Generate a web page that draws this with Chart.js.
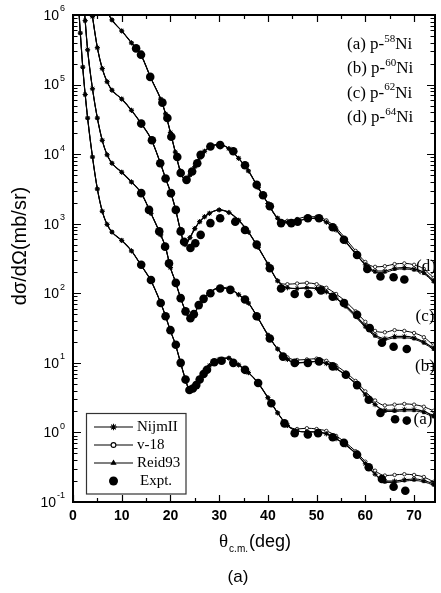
<!DOCTYPE html>
<html>
<head>
<meta charset="utf-8">
<script src="https://cdn.jsdelivr.net/npm/chart.js@4.4.1/dist/chart.umd.min.js"></script>
<style>
  html, body { margin: 0; background: #fff; }
  canvas { display: block; }
</style>
</head>
<body>
<canvas id="chart" width="441" height="593"></canvas>
<script>

/* DATA */

// angles (deg) of the calculated curves
const thetaTheory = [1, 1.5, 2, 2.5, 3, 4, 5, 6, 7, 8, 10, 12, 14, 16, 18, 19, 20, 21, 22, 23, 24, 25, 26, 27, 28, 30, 32, 34, 36, 38, 40, 42, 44, 46, 48, 50, 52, 54, 56, 58, 60, 62, 64, 66, 68, 70, 72, 74, 75];

// (a) p-58Ni  (x1)
const nijmA = [2.0e6, 5.5e5, 1.78e5, 7.2e4, 3.3e4, 9.1e3, 3.16e3, 1.51e3, 977, 759, 575, 407, 251, 151, 72.4, 46.8, 28.8, 18.6, 10.5, 6.03, 3.98, 4.57, 6.03, 7.59, 9.12, 11.2, 11.7, 9.33, 7.24, 5.13, 3.16, 1.91, 1.26, 1.05, 1.02, 1.02, 0.955, 0.813, 0.661, 0.501, 0.355, 0.251, 0.200, 0.200, 0.209, 0.214, 0.204, 0.182, 0.170];
const v18A = [2.0e6, 5.5e5, 1.78e5, 7.2e4, 3.3e4, 9.1e3, 3.16e3, 1.51e3, 977, 759, 575, 407, 251, 151, 72.4, 46.8, 28.8, 18.6, 10.5, 6.03, 3.98, 4.57, 6.03, 7.59, 9.12, 11.2, 11.7, 9.33, 7.24, 5.13, 3.16, 1.91, 1.26, 1.12, 1.15, 1.12, 1.05, 0.891, 0.708, 0.537, 0.380, 0.282, 0.240, 0.245, 0.251, 0.245, 0.229, 0.195, 0.182];
const reidA = [2.0e6, 5.5e5, 1.78e5, 7.2e4, 3.3e4, 9.1e3, 3.16e3, 1.51e3, 977, 759, 575, 407, 251, 151, 72.4, 46.8, 28.8, 18.6, 10.5, 6.03, 3.98, 4.57, 6.03, 7.59, 9.12, 11.2, 11.7, 9.33, 7.24, 5.13, 3.16, 1.91, 1.26, 1.05, 1.02, 1.02, 0.955, 0.813, 0.661, 0.501, 0.355, 0.251, 0.191, 0.191, 0.200, 0.204, 0.195, 0.174, 0.162];
const exptThetaA = [14.0, 16.0, 18.0, 19.0, 20.0, 21.1, 22.1, 23.1, 23.9, 24.6, 25.3, 26.0, 26.8, 27.5, 29.0, 30.5, 32.9, 35.3, 38.0, 40.7, 43.4, 45.5, 48.2, 50.3, 53.3, 55.6, 58.3, 60.7, 63.4, 65.8, 68.2];
const exptA = [257, 155, 72.4, 46.8, 29.5, 18.2, 10.0, 5.75, 4.07, 4.27, 4.79, 5.75, 6.92, 7.94, 10.2, 10.7, 10.0, 7.94, 5.13, 2.63, 1.35, 0.977, 0.933, 0.977, 0.851, 0.708, 0.479, 0.316, 0.214, 0.166, 0.145];

// (b) p-60Ni  (x10)
const nijmB = [2.5e7, 7.9e6, 2.5e6, 8.3e5, 3.16e5, 8.7e4, 3.3e4, 1.58e4, 9.8e3, 7.4e3, 5.5e3, 3.98e3, 2.75e3, 1.41e3, 692, 457, 234, 148, 89.1, 57.5, 42.7, 52.5, 70.8, 87.1, 102, 120, 117, 95.5, 72.4, 43.7, 25.1, 15.8, 11.2, 10.0, 10.2, 10.5, 9.77, 8.32, 6.61, 5.01, 3.47, 2.51, 2.09, 2.09, 2.14, 2.14, 2.00, 1.74, 1.62];
const v18B = [2.5e7, 7.9e6, 2.5e6, 8.3e5, 3.16e5, 8.7e4, 3.3e4, 1.58e4, 9.8e3, 7.4e3, 5.5e3, 3.98e3, 2.75e3, 1.41e3, 692, 457, 234, 148, 89.1, 57.5, 42.7, 52.5, 70.8, 87.1, 102, 120, 117, 95.5, 72.4, 43.7, 25.1, 15.8, 12.0, 11.0, 11.2, 11.5, 10.7, 9.12, 7.24, 5.50, 3.89, 2.88, 2.45, 2.51, 2.57, 2.51, 2.34, 2.04, 1.91];
const reidB = [2.5e7, 7.9e6, 2.5e6, 8.3e5, 3.16e5, 8.7e4, 3.3e4, 1.58e4, 9.8e3, 7.4e3, 5.5e3, 3.98e3, 2.75e3, 1.41e3, 692, 457, 234, 148, 89.1, 57.5, 42.7, 52.5, 70.8, 87.1, 102, 120, 117, 95.5, 72.4, 43.7, 25.1, 15.8, 11.2, 10.0, 10.2, 10.5, 9.77, 8.32, 6.61, 5.01, 3.47, 2.51, 2.00, 2.00, 2.04, 2.04, 1.91, 1.66, 1.55];
const exptThetaB = [14.0, 15.6, 17.7, 18.9, 19.7, 21.1, 22.1, 23.1, 24.1, 24.8, 25.8, 26.8, 28.2, 30.2, 32.3, 35.3, 37.7, 40.4, 43.1, 45.5, 48.2, 50.5, 53.3, 56.0, 58.3, 60.7, 63.1, 66.1, 68.5];
const exptB = [2.75e3, 1.58e3, 776, 468, 269, 141, 85.1, 55.0, 43.7, 50.1, 67.6, 83.2, 100, 117, 112, 81.3, 46.8, 22.4, 12.3, 10.0, 10.0, 10.5, 8.91, 6.76, 4.79, 2.95, 1.91, 1.55, 1.48];

// (c) p-62Ni  (x100)
const nijmC = [2.5e8, 4.9e7, 1.5e7, 6.3e6, 3.0e6, 9.5e5, 3.39e5, 1.70e5, 1.10e5, 8.3e4, 6.2e4, 4.27e4, 2.75e4, 1.66e4, 7.2e3, 4.47e3, 2.88e3, 1.66e3, 832, 501, 631, 851, 1.07e3, 1.26e3, 1.41e3, 1.58e3, 1.45e3, 1.12e3, 759, 457, 263, 151, 120, 117, 120, 117, 105, 85.1, 66.1, 47.9, 33.9, 25.1, 22.4, 24.0, 24.0, 22.9, 20.0, 16.2, 14.5];
const v18C = [2.5e8, 4.9e7, 1.5e7, 6.3e6, 3.0e6, 9.5e5, 3.39e5, 1.70e5, 1.10e5, 8.3e4, 6.2e4, 4.27e4, 2.75e4, 1.66e4, 7.2e3, 4.47e3, 2.88e3, 1.66e3, 832, 501, 631, 851, 1.07e3, 1.26e3, 1.41e3, 1.58e3, 1.45e3, 1.12e3, 759, 457, 263, 151, 135, 138, 141, 135, 120, 97.7, 75.9, 55.0, 38.9, 28.8, 27.5, 29.5, 28.8, 26.9, 23.4, 17.8, 15.5];
const reidC = [2.5e8, 4.9e7, 1.5e7, 6.3e6, 3.0e6, 9.5e5, 3.39e5, 1.70e5, 1.10e5, 8.3e4, 6.2e4, 4.27e4, 2.75e4, 1.66e4, 7.2e3, 4.47e3, 2.88e3, 1.66e3, 832, 501, 631, 851, 1.07e3, 1.26e3, 1.41e3, 1.58e3, 1.45e3, 1.12e3, 759, 457, 263, 151, 120, 117, 120, 117, 105, 85.1, 63.1, 45.7, 32.4, 24.0, 21.4, 22.9, 22.9, 21.9, 19.1, 15.5, 13.8];
const exptThetaC = [14.0, 16.2, 17.9, 19.0, 20.1, 21.1, 22.1, 22.8, 24.1, 25.1, 26.2, 28.2, 30.2, 33.3, 35.3, 37.7, 40.4, 42.7, 45.5, 48.3, 50.9, 53.3, 55.6, 58.3, 60.9, 63.4, 65.8, 68.5];
const exptC = [2.75e4, 1.58e4, 7.41e3, 4.47e3, 2.75e3, 1.58e3, 776, 550, 447, 525, 692, 1.02e3, 1.20e3, 1.07e3, 813, 501, 229, 117, 97.7, 97.7, 110, 89.1, 72.4, 49.0, 31.6, 19.5, 17.0, 15.8];

// (d) p-64Ni  (x1000)
const nijmD = [3e9, 6e8, 2e8, 8e7, 4e7, 1.26e7, 4.5e6, 2.1e6, 1.15e6, 8.5e5, 5.9e5, 3.98e5, 2.63e5, 1.23e5, 6.17e4, 3.8e4, 2.04e4, 1.07e4, 5.75e3, 4.27e3, 5.01e3, 6.61e3, 8.91e3, 1.10e4, 1.26e4, 1.38e4, 1.20e4, 8.71e3, 5.75e3, 3.31e3, 1.95e3, 1.20e3, 1.05e3, 1.10e3, 1.17e3, 1.20e3, 1.05e3, 813, 550, 372, 257, 209, 209, 229, 234, 224, 200, 151, 132];
const v18D = [3e9, 6e8, 2e8, 8e7, 4e7, 1.26e7, 4.5e6, 2.1e6, 1.15e6, 8.5e5, 5.9e5, 3.98e5, 2.63e5, 1.23e5, 6.17e4, 3.8e4, 2.04e4, 1.07e4, 5.75e3, 4.27e3, 5.01e3, 6.61e3, 8.91e3, 1.10e4, 1.26e4, 1.38e4, 1.20e4, 8.71e3, 5.75e3, 3.31e3, 1.95e3, 1.20e3, 1.10e3, 1.17e3, 1.26e3, 1.26e3, 1.12e3, 871, 603, 407, 282, 240, 245, 263, 269, 257, 224, 166, 145];
const reidD = [3e9, 6e8, 2e8, 8e7, 4e7, 1.26e7, 4.5e6, 2.1e6, 1.15e6, 8.5e5, 5.9e5, 3.98e5, 2.63e5, 1.23e5, 6.17e4, 3.8e4, 2.04e4, 1.07e4, 5.75e3, 4.27e3, 5.01e3, 6.61e3, 8.91e3, 1.10e4, 1.26e4, 1.38e4, 1.20e4, 8.71e3, 5.75e3, 3.31e3, 1.95e3, 1.20e3, 1.05e3, 1.10e3, 1.17e3, 1.20e3, 1.05e3, 813, 550, 372, 257, 200, 200, 219, 224, 214, 191, 145, 126];
const exptThetaD = [12.95, 13.96, 15.85, 18.35, 19.37, 20.18, 21.4, 22.1, 23.3, 24.45, 25.5, 26.2, 28.2, 30.2, 32.9, 35.3, 37.7, 39.0, 40.4, 42.7, 44.8, 46.1, 48.2, 50.5, 53.3, 55.6, 58.3, 60.4, 63.1, 65.8, 68.0];
const exptD = [3.31e5, 2.69e5, 1.29e5, 5.50e4, 3.31e4, 1.78e4, 9.12e3, 5.37e3, 4.27e3, 5.62e3, 7.41e3, 9.77e3, 1.29e4, 1.35e4, 1.10e4, 6.92e3, 3.63e3, 2.57e3, 1.78e3, 1.02e3, 1.02e3, 1.07e3, 1.20e3, 1.20e3, 891, 589, 355, 224, 174, 170, 158];

// axes
const xTickLabels = [0, 10, 20, 30, 40, 50, 60, 70];
const yExponents = [-1, 0, 1, 2, 3, 4, 5, 6];

// texts
const legendLabels = ["NijmII", "v-18", "Reid93", "Expt."];
const targetTags = ["(a) p-", "(b) p-", "(c) p-", "(d) p-"];
const targetMasses = ["58", "60", "62", "64"];
const curveTags = ["(a)", "(b)", "(c)", "(d)"];


/* DATASETS */

function pts(xs, ys) {
  return xs.map((x, i) => ({ x: x, y: ys[i] }));
}

const nijmStyle = {
  showLine: true, borderColor: "#000", borderWidth: 1.2,
  pointStyle: "star", pointRadius: 2.6, pointBorderWidth: 1,
  pointBorderColor: "#000", pointBackgroundColor: "#000",
  cubicInterpolationMode: "monotone"
};
const v18Style = {
  showLine: true, borderColor: "#000", borderWidth: 1,
  pointStyle: "circle", pointRadius: 1.7, pointBorderWidth: 0.8,
  pointBorderColor: "#000", pointBackgroundColor: "#fff",
  cubicInterpolationMode: "monotone"
};
const reidStyle = {
  showLine: true, borderColor: "#000", borderWidth: 1,
  pointStyle: "triangle", pointRadius: 1.8, pointBorderWidth: 0.5,
  pointBorderColor: "#000", pointBackgroundColor: "#000",
  cubicInterpolationMode: "monotone"
};
const exptStyle = {
  showLine: false, pointStyle: "circle", pointRadius: 4.3,
  pointBorderWidth: 0, pointBackgroundColor: "#000", pointBorderColor: "#000"
};

const groups = [
  [nijmA, v18A, reidA, exptThetaA, exptA],
  [nijmB, v18B, reidB, exptThetaB, exptB],
  [nijmC, v18C, reidC, exptThetaC, exptC],
  [nijmD, v18D, reidD, exptThetaD, exptD]
];

// first dataset ends up on top
const datasets = [];

groups.forEach(g => {
  datasets.push(Object.assign({ label: "Expt.", data: pts(g[3], g[4]) }, exptStyle));
});
groups.forEach(g => {
  datasets.push(Object.assign({ label: "NijmII", data: pts(thetaTheory, g[0]) }, nijmStyle));
});
groups.forEach(g => {
  datasets.push(Object.assign({ label: "Reid93", data: pts(thetaTheory, g[2]) }, reidStyle));
});
groups.forEach(g => {
  datasets.push(Object.assign({ label: "v-18", data: pts(thetaTheory, g[1]) }, v18Style));
});


/* FRAME, TICKS AND TEXTS */

const SANS = "'Liberation Sans', Arial, sans-serif";
const SERIF = "'Liberation Serif', 'Times New Roman', serif";

function drawPow(ctx, e, xr, yc) {
  const base = "10", sup = String(e);
  ctx.font = "14px " + SANS;
  const wb = ctx.measureText(base).width;
  ctx.font = "9px " + SANS;
  const ws = ctx.measureText(sup).width;
  const x0 = xr - wb - ws - 1;
  ctx.textAlign = "left";
  ctx.textBaseline = "middle";
  ctx.font = "14px " + SANS;
  ctx.fillText(base, x0, yc + 1);
  ctx.font = "9px " + SANS;
  ctx.fillText(sup, x0 + wb + 1, yc - 6);
}

const frame = {
  id: "frame",
  afterDraw(chart) {
    const { ctx, chartArea: a, scales: { x, y } } = chart;
    const L = a.left, R = a.right - 1, T = a.top, B = a.bottom;
    ctx.save();
    ctx.fillStyle = "#000";
    ctx.strokeStyle = "#000";

    // frame
    ctx.lineWidth = 2;
    ctx.strokeRect(L, T, R - L, B - T);

    // x ticks (inside, bottom and top)
    ctx.lineWidth = 1.2;
    ctx.beginPath();
    xTickLabels.forEach(v => {
      const px = Math.round(x.getPixelForValue(v)) + 0.5;
      ctx.moveTo(px, B); ctx.lineTo(px, B - 7);
      ctx.moveTo(px, T); ctx.lineTo(px, T + 7);
      const pm = Math.round(x.getPixelForValue(v + 5)) + 0.5;
      if (pm < R) {
        ctx.moveTo(pm, B); ctx.lineTo(pm, B - 4);
        ctx.moveTo(pm, T); ctx.lineTo(pm, T + 4);
      }
    });

    // y ticks (inside, left and right)
    yExponents.forEach((e, i) => {
      const py = Math.round(y.getPixelForValue(Math.pow(10, e))) + 0.5;
      ctx.moveTo(L, py); ctx.lineTo(L + 8, py);
      ctx.moveTo(R, py); ctx.lineTo(R - 8, py);
      if (i < yExponents.length - 1) {
        for (let k = 2; k <= 9; k++) {
          const pm = Math.round(y.getPixelForValue(k * Math.pow(10, e))) + 0.5;
          ctx.moveTo(L, pm); ctx.lineTo(L + 4.5, pm);
          ctx.moveTo(R, pm); ctx.lineTo(R - 4.5, pm);
        }
      }
    });
    ctx.stroke();

    // tick labels
    ctx.font = "bold 14px " + SANS;
    ctx.textAlign = "center";
    ctx.textBaseline = "middle";
    xTickLabels.forEach(v => {
      ctx.fillText(String(v), x.getPixelForValue(v), B + 14);
    });
    yExponents.forEach(e => {
      drawPow(ctx, e, 65, y.getPixelForValue(Math.pow(10, e)));
    });

    // y title
    ctx.save();
    ctx.translate(20, 246);
    ctx.rotate(-Math.PI / 2);
    ctx.font = "20px " + SANS;
    ctx.textAlign = "center";
    ctx.textBaseline = "middle";
    ctx.fillText("dσ/dΩ(mb/sr)", 0, 0);
    ctx.restore();

    // x title
    ctx.textAlign = "left";
    ctx.textBaseline = "alphabetic";
    ctx.font = "19px " + SERIF;
    ctx.fillText("θ", 219, 547);
    let cx = 219 + ctx.measureText("θ").width + 1;
    ctx.font = "10px " + SANS;
    ctx.fillText("c.m.", cx, 552);
    cx += ctx.measureText("c.m.").width + 1;
    ctx.font = "18px " + SANS;
    ctx.fillText("(deg)", cx, 547);

    // caption
    ctx.font = "17px " + SANS;
    ctx.textAlign = "center";
    ctx.textBaseline = "middle";
    ctx.fillText("(a)", 238, 577);

    // targets, top right
    const rows = [45, 69, 93.5, 118];
    targetTags.forEach((t, i) => {
      let tx = 347;
      ctx.textAlign = "left";
      ctx.textBaseline = "middle";
      ctx.font = "17px " + SERIF;
      ctx.fillText(t, tx, rows[i]);
      tx += ctx.measureText(t).width;
      ctx.font = "11px " + SERIF;
      ctx.fillText(targetMasses[i], tx, rows[i] - 6);
      tx += ctx.measureText(targetMasses[i]).width;
      ctx.font = "17px " + SERIF;
      ctx.fillText("Ni", tx, rows[i]);
    });

    // curve tags on the right
    const tagPos = [[423, 420], [425, 367], [425, 317], [426, 267]];
    ctx.font = "17px " + SERIF;
    ctx.textAlign = "center";
    curveTags.forEach((t, i) => {
      ctx.fillText(t, tagPos[i][0], tagPos[i][1]);
    });

    // legend
    ctx.fillStyle = "#fff";
    ctx.fillRect(87, 414, 99, 80);
    ctx.fillStyle = "#000";
    ctx.lineWidth = 1.2;
    ctx.strokeStyle = "#333";
    ctx.strokeRect(86.5, 413.5, 99.5, 80.5);
    ctx.strokeStyle = "#000";
    const ly = [427, 445, 463, 481];
    const styles = [nijmStyle, v18Style, reidStyle, exptStyle];
    legendLabels.forEach((lab, i) => {
      const st = styles[i];
      if (st.showLine) {
        ctx.lineWidth = 1.1;
        ctx.beginPath();
        ctx.moveTo(94, ly[i]); ctx.lineTo(133, ly[i]);
        ctx.stroke();
      }
      ctx.fillStyle = st.pointBackgroundColor;
      ctx.strokeStyle = "#000";
      Chart.helpers.drawPoint(ctx, {
        pointStyle: st.pointStyle,
        radius: i === 3 ? 4.5 : st.pointRadius + 0.7,
        rotation: 0,
        borderWidth: st.pointBorderWidth
      }, 113.5, ly[i]);
      ctx.fillStyle = "#000";
      ctx.font = "15px " + SERIF;
      ctx.textAlign = "left";
      ctx.textBaseline = "middle";
      ctx.fillText(lab, i === 3 ? 140 : 137, ly[i]);
    });

    ctx.restore();
  }
};


/* CHART */

new Chart(document.getElementById("chart"), {
  type: "scatter",
  data: { datasets: datasets },
  options: {
    responsive: false,
    animation: false,
    devicePixelRatio: 1,
    layout: { padding: { left: 73, top: 15, right: 2, bottom: 91 } },
    plugins: {
      legend: { display: false },
      tooltip: { enabled: false }
    },
    scales: {
      x: { type: "linear", min: 0, max: 74.5, display: false },
      y: { type: "logarithmic", min: 0.1, max: 1e6, display: false }
    }
  },
  plugins: [frame]
});

</script>
</body>
</html>
